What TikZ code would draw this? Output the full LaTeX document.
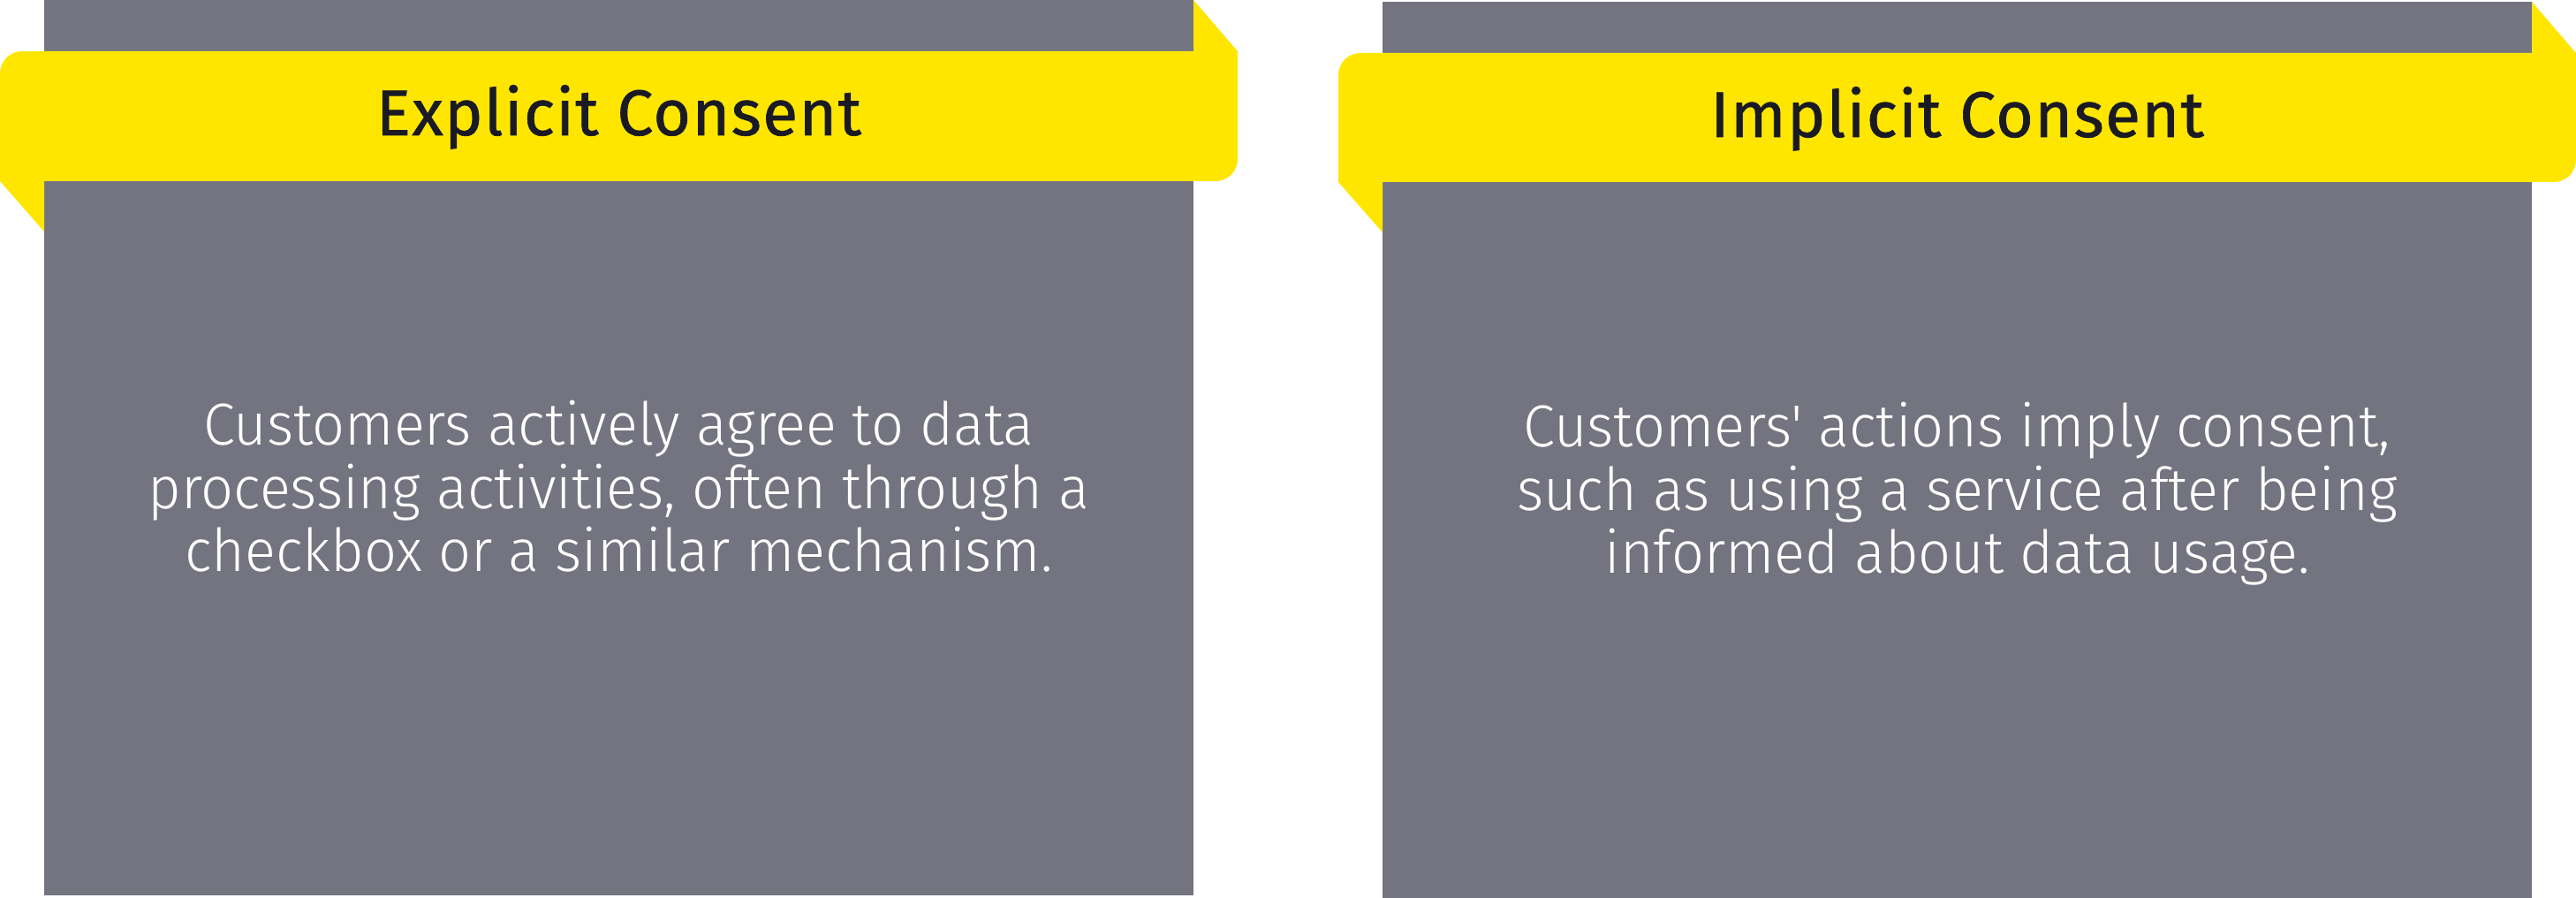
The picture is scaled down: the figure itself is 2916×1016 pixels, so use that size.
\documentclass[tikz,border=0pt]{standalone}
\usepackage{fontspec}
\setmainfont{Fira Sans}
\newfontfamily\titlefont{Fira Sans}[FakeBold=0.9,LetterSpace=2]
\newfontfamily\bodyfont{Fira Sans Light}[FakeStretch=0.968]
\definecolor{eygray}{HTML}{747480}
\definecolor{eyyellow}{HTML}{FFE600}
\definecolor{eydark}{HTML}{1A1A24}
\tikzset{
  panelbg/.style={fill=eygray},
  banner/.style={fill=eyyellow},
  titletext/.style={anchor=base, inner sep=0pt, text=eydark, font=\titlefont\fontsize{18.25pt}{20pt}\selectfont},
  bodytext/.style={anchor=base, inner sep=0pt, text=white, font=\bodyfont\fontsize{16.75pt}{17.25pt}\selectfont}
}
\begin{document}
\begin{tikzpicture}[x=0.25pt,y=0.25pt]
\useasboundingbox (0,0) rectangle (2916,1016);
% left panel
\fill[panelbg] (50,3) rectangle (1351,1016);
\fill[banner] (0,811) -- (0,933) arc[start angle=180,end angle=90,radius=6.25pt]
  -- (1351,958) -- (1351,1016) -- (1401,958) -- (1401,836)
  arc[start angle=0,end angle=-90,radius=6.25pt] -- (50,811) -- (50,754) -- cycle;
% right panel
\fill[panelbg] (1565,0) rectangle (2866,1014);
\fill[banner] (1515,810) -- (1515,931) arc[start angle=180,end angle=90,radius=6.25pt]
  -- (2866,956) -- (2866,1014) -- (2916,956) -- (2916,835)
  arc[start angle=0,end angle=-90,radius=6.25pt] -- (1565,810) -- (1565,753) -- cycle;
% titles
\node[titletext] (t1) at (700.5,863) {Explicit Consent};
\node[titletext] (t2) at (2215.5,861) {Implicit Consent};
% bodies
\node[bodytext] (b1) at (700.5,512) {\tabcolsep=0pt\begin{tabular}[t]{c}Customers actively agree to data\\processing activities, often through a\\checkbox or a similar mechanism.\end{tabular}};
\node[bodytext] (b2) at (2215.5,510) {\tabcolsep=0pt\begin{tabular}[t]{c}Customers' actions imply consent,\\such as using a service after being\\informed about data usage.\end{tabular}};
\end{tikzpicture}
\end{document}
